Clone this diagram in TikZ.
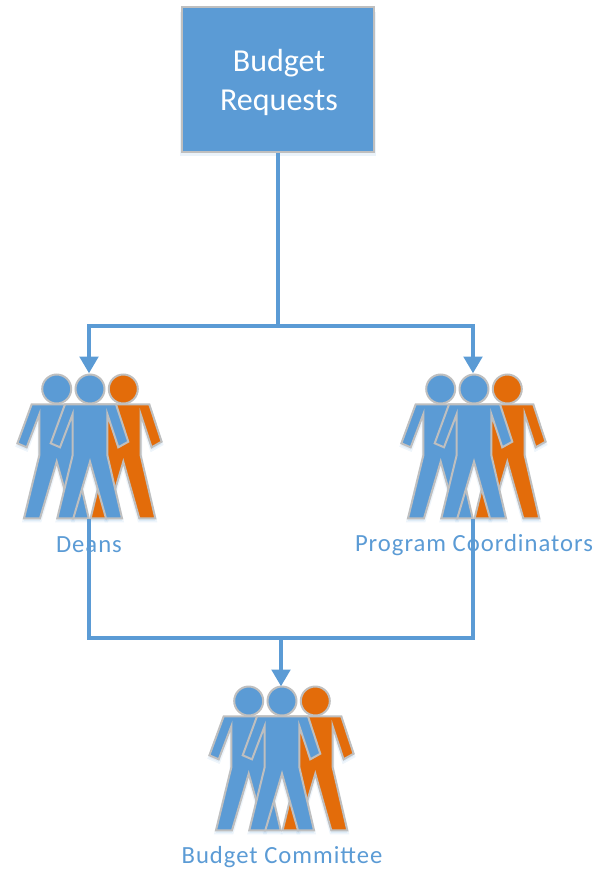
\documentclass[tikz,border=0pt]{standalone}
\usepackage{fontspec}
\setmainfont{Carlito}
\newfontfamily\spaced[LetterSpace=4]{Carlito}
\usetikzlibrary{arrows.meta}
\definecolor{hblue}{HTML}{5B9BD5}
\definecolor{horange}{HTML}{E36C0A}
\definecolor{hgray}{HTML}{BFBFBF}
\tikzset{
  link/.style={draw=hblue,line width=2.3pt},
  linkarrow/.style={link,-{Triangle[length=12.5pt,width=14pt]}},
  box/.style={draw=hgray,fill=hblue,line width=1.5pt,minimum width=144pt,minimum height=108.5pt,inner sep=0pt},
  boxtext/.style={text=white,font=\fontsize{24}{29}\selectfont,align=center,inner sep=0pt},
  grouplabel/.style={text=hblue,font=\spaced\fontsize{18.5}{22}\selectfont,inner sep=0pt},
  anchorbox/.style={minimum width=108pt,minimum height=108.75pt,inner sep=0pt},
  pers/.style={draw=hgray,line width=1.5pt,line join=miter},
  shade/.style={draw=hblue,draw opacity=.10,fill=hblue,fill opacity=.10,line width=2.5pt},
  pics/person/.style={code={
    \path[pers,fill=#1]
      (-25,15.3)--(26,15.3)--(38.3,52.7)--(28.3,58.3)--(17.3,25)--(17.3,66)--(32,129.3)--(16,129.3)--(0,72.7)
      --(-16.7,129.3)--(-32.7,129.3)--(-17.3,66)--(-17.3,25)--(-30,58.3)--(-39.3,54.3)--cycle;
    \path[pers,fill=#1] (0,0) circle[radius=14.5];
  }},
  pics/personshade/.style={code={
    \path[shade] (-25,15.3)--(26,15.3)--(38.3,52.7)--(28.3,58.3)--(17.3,25)--(17.3,66)--(32,129.3)--(16,129.3)--(0,72.7)
      --(-16.7,129.3)--(-32.7,129.3)--(-17.3,66)--(-17.3,25)--(-30,58.3)--(-39.3,54.3)--cycle;
  }},
  pics/trio/.style={code={
    \pic at (-33.3,2.5) {personshade};
    \pic at (33.3,2.5) {personshade};
    \pic at (0,2.5) {personshade};
    \pic at (33.3,0) {person=horange};
    \pic at (-33.3,0) {person=hblue};
    \pic at (0,0) {person=hblue};
  }}
}
\begin{document}
\begin{tikzpicture}[x=0.75pt,y=-0.75pt]
\useasboundingbox (0,0) rectangle (599,874);
% box shadow
\fill[hblue,opacity=.12] (180,12) rectangle (376,156);
\node[box] (req) at (278,79.5) {};
\node[boxtext] (reqtext) at (279,82.5) {Budget\\Requests};
% people
\pic at (90,389) {trio};
\pic at (474,389) {trio};
\pic at (282,701) {trio};
% anchors of the three groups (top at arrow tip, bottom at feet)
\node[anchorbox] (deans) at (89,446) {};
\node[anchorbox] (prog) at (473,446) {};
\node[anchorbox] (comm) at (281,759) {};
\coordinate (split) at (278,326);
\coordinate (join) at (281,638);
% labels
\node[grouplabel] (deansl) at (89,545) {Deans};
\node[grouplabel] (progl) at (474,545) {Program Coordinators};
\node[grouplabel] (comml) at (282,857) {Budget Committee};
% connectors
\draw[link] (req.south) -- (split);
\draw[linkarrow] (split) -| (deans.north);
\draw[linkarrow] (split) -| (prog.north);
\draw[link] (deans.south) |- (join);
\draw[link] (prog.south) |- (join);
\draw[linkarrow] (join) -- (comm.north);
\end{tikzpicture}
\end{document}
